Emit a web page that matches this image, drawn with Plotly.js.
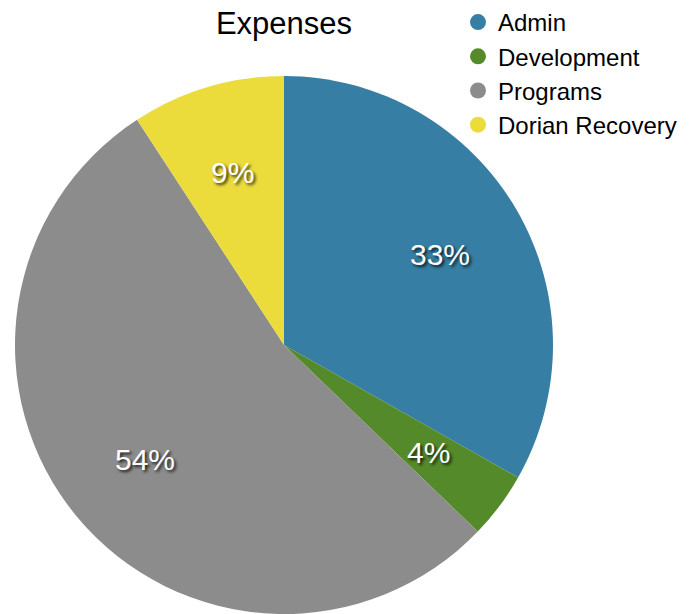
<!DOCTYPE html>
<html><head><meta charset="utf-8">
<script src="https://cdn.plot.ly/plotly-3.0.1.min.js"></script>
<style>html,body{margin:0;padding:0;background:#fff}#chart{width:699px;height:614px}</style>
</head><body><div id="chart"></div>
<script>
var categories = ["Admin", "Development", "Programs", "Dorian Recovery"];
var values = [33.2, 4.0, 53.6, 9.2];
var colors = ["#367ea3", "#558a2a", "#8c8c8c", "#ebdc3b"];

var FONT = "Liberation Sans, Arial, Helvetica, sans-serif";
var W = 699, H = 614;
var domX = [15 / W, 553 / W], domY = [0, 1 - 76 / H];

var traces = [{
  type: "pie",
  labels: categories,
  values: values,
  sort: false,
  direction: "clockwise",
  rotation: 0,
  marker: {colors: colors, line: {width: 0}},
  textinfo: "none",
  textposition: "inside",
  hoverinfo: "label+percent",
  showlegend: false,
  domain: {x: domX, y: domY}
}];
categories.forEach(function(c, i) {
  traces.push({
    type: "scatter", mode: "markers", x: [null], y: [null], name: c,
    marker: {symbol: "circle", size: 19, color: colors[i]},
    showlegend: true, hoverinfo: "skip"
  });
});

// percent labels placed at the middle angle of each slice, at a fixed fraction of the radius
var total = values.reduce(function(a, b) { return a + b; }, 0);
var cxPx = (domX[0] + domX[1]) / 2 * W, cyPx = (1 - (domY[0] + domY[1]) / 2) * H;
var rPx = Math.min((domX[1] - domX[0]) * W, (domY[1] - domY[0]) * H) / 2;
var annotations = [];
var cum = 0;
values.forEach(function(v) {
  var mid = (cum + v / 2) / total * 2 * Math.PI;
  cum += v;
  var r = 0.67 * rPx;
  var px = cxPx + r * Math.sin(mid), py = cyPx - r * Math.cos(mid);
  annotations.push({
    xref: "paper", yref: "paper", x: px / W, y: 1 - py / H,
    xanchor: "center", yanchor: "middle", showarrow: false,
    text: Math.round(v / total * 100) + "%",
    font: {family: FONT, size: 30, color: "#ffffff", shadow: "2px 2px 3px rgba(0,0,0,0.8)"}
  });
});

var layout = {
  width: W, height: H,
  margin: {l: 0, r: 0, t: 0, b: 0},
  paper_bgcolor: "#ffffff", plot_bgcolor: "rgba(0,0,0,0)",
  title: {text: "Expenses", font: {family: FONT, size: 31, color: "#000"}, x: 284 / W, xanchor: "center", y: 1 - 23 / H, yanchor: "middle"},
  xaxis: {visible: false}, yaxis: {visible: false},
  legend: {x: 458 / W, xanchor: "left", y: 1, yanchor: "top", font: {family: FONT, size: 24, color: "#000"},
           bgcolor: "rgba(0,0,0,0)", tracegroupgap: 0, itemsizing: "trace"},
  annotations: annotations,
  showlegend: true
};
Plotly.newPlot("chart", traces, layout, {displayModeBar: false, staticPlot: true});
</script></body></html>
